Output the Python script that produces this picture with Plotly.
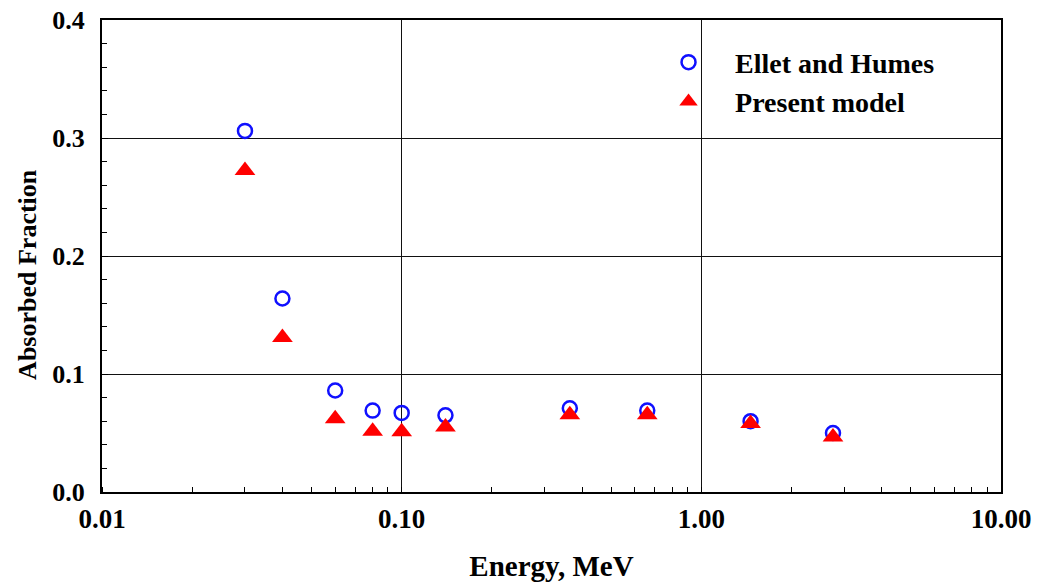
import plotly.graph_objects as go

energy = [0.03, 0.04, 0.06, 0.08, 0.10, 0.14, 0.364, 0.66, 1.46, 2.75]
ellet_humes = [0.306, 0.164, 0.086, 0.069, 0.067, 0.065, 0.071, 0.069, 0.060, 0.050]
present_model = [0.2725, 0.131, 0.062, 0.0515, 0.051, 0.055, 0.0654, 0.0654, 0.058, 0.0466]

x_tickvals = [0.01, 0.1, 1, 10]
x_ticktext = ["0.01", "0.10", "1.00", "10.00"]

FONT = "Liberation Serif"

fig = go.Figure()
fig.add_trace(go.Scatter(
    x=energy, y=ellet_humes, mode="markers", name="<b>Ellet and Humes</b>",
    marker=dict(symbol="circle-open", size=14, color="#1010ff", line=dict(width=2.5, color="#1010ff")),
))
fig.add_trace(go.Scatter(
    x=energy, y=present_model, mode="markers", name="<b>Present model</b>",
    marker=dict(symbol="triangle-up", size=18, color="#ff0000", line=dict(width=0)),
))

fig.update_layout(
    width=1043, height=588,
    margin=dict(l=102, r=42, t=20, b=96),
    paper_bgcolor="white", plot_bgcolor="white",
    font=dict(family=FONT, size=26, color="black"),
    showlegend=True,
    legend=dict(
        x=0.6007, y=0.963, xanchor="left", yanchor="top",
        font=dict(family=FONT, size=28, color="black"),
        bgcolor="rgba(0,0,0,0)", itemwidth=83,
        tracegroupgap=0,
    ),
    xaxis=dict(
        type="log", range=[-2, 1], automargin=False,
        tickvals=x_tickvals, ticktext=[f"<b>{t}</b>" for t in x_ticktext],
        ticks="", showgrid=True, gridcolor="#111", gridwidth=1,
        showline=True, linecolor="black", linewidth=2, mirror=True,
        zeroline=False, ticklabelstandoff=2,
        minor=dict(ticks="inside", ticklen=5, tickcolor="black", dtick="D1", showgrid=False),
        title=dict(text="<b>Energy, MeV</b>", font=dict(family=FONT, size=29), standoff=22),
        tickfont=dict(family=FONT, size=27),
    ),
    yaxis=dict(
        range=[0, 0.4], dtick=0.1, tickformat=".1f", automargin=False,
        tickprefix="<b>", ticksuffix="</b>",
        ticks="inside", ticklen=6, tickcolor="black",
        showgrid=True, gridcolor="#111", gridwidth=1,
        showline=True, linecolor="black", linewidth=2, mirror=True,
        zeroline=False, ticklabelstandoff=10,
        minor=dict(ticks="inside", ticklen=5, tickcolor="black", dtick=0.02, showgrid=False),
        tickfont=dict(family=FONT, size=26),
    ),
    annotations=[dict(
        text="<b>Absorbed Fraction</b>", textangle=-90,
        xref="paper", yref="paper", x=-0.0823, y=0.46,
        xanchor="center", yanchor="middle", showarrow=False,
        font=dict(family=FONT, size=26, color="black"),
    )],
)

fig.write_html("out.html")
